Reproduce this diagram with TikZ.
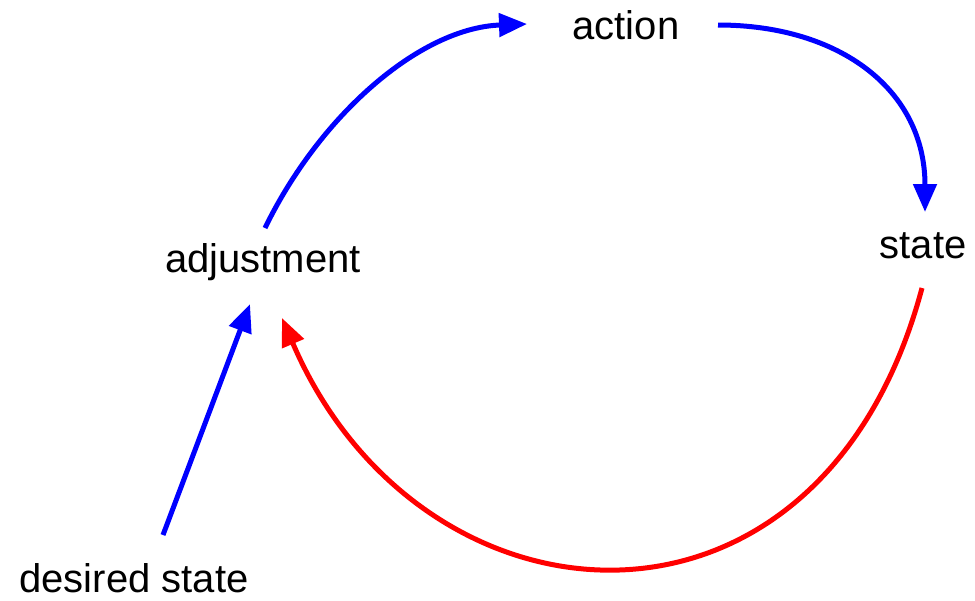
\documentclass[tikz,border=0pt]{standalone}
\usepackage{fontspec}
\setmainfont{Liberation Sans}
\usetikzlibrary{arrows.meta,calc}
\begin{document}
\begin{tikzpicture}[x=1pt,y=-1pt,
  lbl/.style={inner sep=0pt, anchor=base, font=\fontsize{40}{48}\selectfont},
  conn/.style={line width=5pt, -{Triangle[length=28pt,width=23pt]}},
  fwd/.style={conn, draw={rgb,255:red,0;green,0;blue,255}},
  back/.style={conn, draw={rgb,255:red,255;green,0;blue,0}}]
\useasboundingbox (0,0) rectangle (975,600);
\node[lbl] (action) at (626,39) {action};
\node[lbl] (state) at (923,258) {state};
\node[lbl] (adj) at (263,272) {adjustment};
\node[lbl] (des) at (134,592) {desired state};
\draw[fwd] ($(adj.base)+(2,-44)$) .. controls (320,115) and (420,28) .. ($(action.base)+(-99,-15)$);
\draw[fwd] ($(action.base)+(92,-14)$) .. controls (840,25) and (925,90) .. ($(state.base)+(2,-46)$);
\draw[fwd] ($(des.base)+(29,-57)$) -- ($(adj.base)+(-13,32)$);
\draw[back] ($(state.base)+(-1,30)$) .. controls (820,670) and (420,640) .. ($(adj.base)+(19,46)$);
\end{tikzpicture}
\end{document}
